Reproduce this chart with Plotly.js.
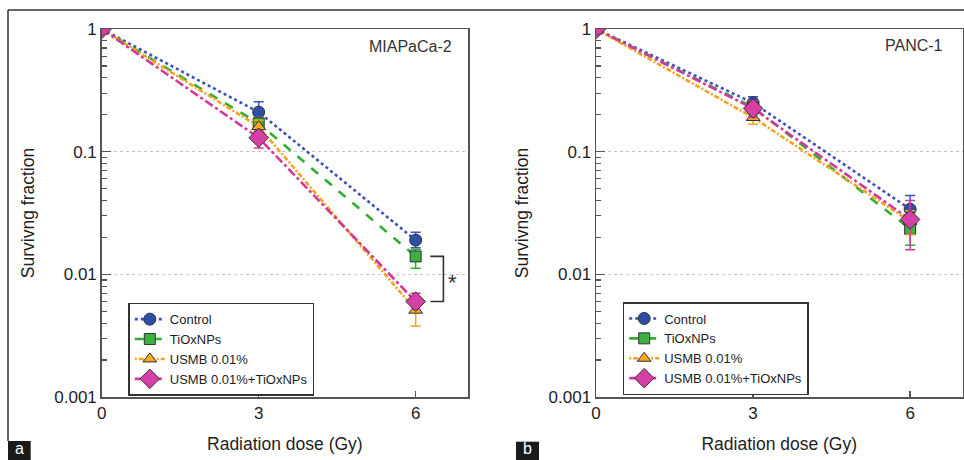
<!DOCTYPE html>
<html>
<head>
<meta charset="utf-8">
<script src="https://cdn.plot.ly/plotly-3.0.1.min.js"></script>
<style>html,body{margin:0;padding:0;background:#fff;}#chart{width:964px;height:460px;}</style>
</head>
<body>
<div id="chart"></div>
<script>
// ---- data ----
const doses = [0, 3, 6];
const seriesNames = ["Control", "TiOxNPs", "USMB 0.01%", "USMB 0.01%+TiOxNPs"];

// Panel a: MIAPaCa-2
const a_control    = [1, 0.21, 0.019];
const a_control_hi = [1, 0.255, 0.022];
const a_control_lo = [1, 0.175, 0.0165];
const a_tiox       = [1, 0.17, 0.014];
const a_tiox_hi    = [1, 0.19, 0.016];
const a_tiox_lo    = [1, 0.15, 0.0112];
const a_usmb       = [1, 0.16, 0.0051];
const a_usmb_hi    = [1, 0.18, 0.0058];
const a_usmb_lo    = [1, 0.14, 0.0038];
const a_combo      = [1, 0.13, 0.006];
const a_combo_hi   = [1, 0.145, 0.007];
const a_combo_lo   = [1, 0.107, 0.0052];

// Panel b: PANC-1
const b_control    = [1, 0.25, 0.034];
const b_control_hi = [1, 0.28, 0.044];
const b_control_lo = [1, 0.22, 0.027];
const b_tiox       = [1, 0.23, 0.0235];
const b_tiox_hi    = [1, 0.25, 0.029];
const b_tiox_lo    = [1, 0.20, 0.0173];
const b_usmb       = [1, 0.19, 0.027];
const b_usmb_hi    = [1, 0.21, 0.033];
const b_usmb_lo    = [1, 0.167, 0.021];
const b_combo      = [1, 0.225, 0.028];
const b_combo_hi   = [1, 0.26, 0.040];
const b_combo_lo   = [1, 0.19, 0.0159];

const yTickVals = [1, 0.1, 0.01, 0.001];
const yTickText = ["1", "0.1", "0.01", "0.001"];
const xTickVals = [0, 3, 6];
const panelTitles = ["MIAPaCa-2", "PANC-1"];
const xTitle = "Radiation dose (Gy)";
const yTitle = "Survivng fraction";

// ---- styles ----
const FONT = "Arial, 'Liberation Sans', sans-serif";
const TXT = "#1e1e1e";
const styles = [
  {line: "#3f4fbf", fill: "#2f4ea6", dash: "dot", symbol: "circle", size: 12},
  {line: "#2fb030", fill: "#3cb043", dash: "dash", symbol: "square", size: 11},
  {line: "#f6a31c", fill: "#f4a81d", dash: "2px,2px,5px,2px", symbol: "triangle-up", size: 12},
  {line: "#d4389c", fill: "#d63fa6", dash: "9px,3px,3px,3px", symbol: "diamond", size: 15}
];

function diff(a, b) { return a.map((v, i) => Math.abs(v - b[i])); }

function makeTraces(sets, xa, ya, legendId) {
  return sets.map((s, i) => ({
    type: "scatter", mode: "lines+markers",
    x: doses, y: s[0], name: seriesNames[i],
    xaxis: xa, yaxis: ya, legend: legendId,
    line: {color: styles[i].line, dash: styles[i].dash, width: 2.6},
    marker: {symbol: styles[i].symbol, size: styles[i].size, color: styles[i].fill, line: {color: "#333", width: 1}},
    error_y: {type: "data", symmetric: false, array: diff(s[1], s[0]), arrayminus: diff(s[0], s[2]),
              color: styles[i].line, thickness: 1.5, width: 5}
  }));
}

const setsA = [[a_control, a_control_hi, a_control_lo], [a_tiox, a_tiox_hi, a_tiox_lo],
               [a_usmb, a_usmb_hi, a_usmb_lo], [a_combo, a_combo_hi, a_combo_lo]];
const setsB = [[b_control, b_control_hi, b_control_lo], [b_tiox, b_tiox_hi, b_tiox_lo],
               [b_usmb, b_usmb_hi, b_usmb_lo], [b_combo, b_combo_hi, b_combo_lo]];

const traces = makeTraces(setsA, "x", "y", "legend").concat(makeTraces(setsB, "x2", "y2", "legend2"));

// minor ticks on log axis (2..9 per decade)
const minorVals = [];
[0.001, 0.01, 0.1].forEach(d => { for (let k = 2; k <= 9; k++) minorVals.push(+(d * k).toPrecision(3)); });

const W = 964, H = 460;
const px = v => v / W, py = v => 1 - v / H;

function xAxis(domain, anchor) {
  return {domain: domain, anchor: anchor, range: [0, 7], tickvals: xTickVals, ticks: "inside", ticklen: 6,
    tickwidth: 1.5, tickcolor: "#555", showline: true, mirror: true, linecolor: "#555", linewidth: 1.5,
    showgrid: false, zeroline: false, tickfont: {family: FONT, size: 17, color: TXT},
    title: {text: xTitle, font: {family: FONT, size: 17.5, color: TXT}, standoff: 16}};
}
function yAxis(anchor) {
  return {domain: [py(397), py(29)], anchor: anchor, type: "log", range: [-3, 0],
    tickvals: yTickVals, ticktext: yTickText, ticks: "inside", ticklen: 9, tickwidth: 1.5, tickcolor: "#555",
    minor: {tickvals: minorVals, ticks: "inside", ticklen: 5, tickwidth: 1.2, tickcolor: "#555", showgrid: false},
    showline: true, mirror: true, linecolor: "#555", linewidth: 1.5,
    showgrid: true, gridcolor: "#c4c4c4", griddash: "dot", gridwidth: 1, zeroline: false,
    tickfont: {family: FONT, size: 17, color: TXT},
    title: {text: yTitle, font: {family: FONT, size: 17.5, color: TXT}, standoff: 15}};
}

const legendStyle = {font: {family: FONT, size: 13, color: TXT}, bgcolor: "#fff", bordercolor: "#333",
  borderwidth: 1.5, xanchor: "left", yanchor: "top", itemclick: false, tracegroupgap: 0};

const layout = {
  width: W, height: H, margin: {l: 0, r: 0, t: 0, b: 0},
  paper_bgcolor: "#fff", plot_bgcolor: "#fff", showlegend: true,
  xaxis: xAxis([px(101.7), px(468)], "y"),
  yaxis: yAxis("x"),
  xaxis2: xAxis([px(596), px(962.5)], "y2"),
  yaxis2: yAxis("x2"),
  legend: Object.assign({x: px(128.3), y: py(302.7)}, legendStyle),
  legend2: Object.assign({x: px(622.7), y: py(302)}, legendStyle),
  shapes: [
    {type: "line", xref: "paper", yref: "paper", x0: px(8), x1: 1, y0: py(10), y1: py(10), line: {color: "#333", width: 1.5}},
    {type: "line", xref: "paper", yref: "paper", x0: px(8), x1: px(8), y0: py(10), y1: py(441), line: {color: "#333", width: 1.5}},
    {type: "rect", xref: "paper", yref: "paper", x0: px(8), x1: px(30.7), y0: py(441), y1: 0, fillcolor: "#1a1a1a", line: {width: 0}},
    {type: "rect", xref: "paper", yref: "paper", x0: px(516), x1: px(539), y0: py(441.7), y1: 0, fillcolor: "#1a1a1a", line: {width: 0}},
    // significance bracket between TiOxNPs and USMB 0.01%+TiOxNPs at 6 Gy (panel a)
    {type: "path", xref: "x", yref: "y",
     path: "M 6.28," + a_tiox[2] + " L 6.53," + a_tiox[2] + " L 6.53," + a_combo[2] + " L 6.28," + a_combo[2],
     line: {color: "#333", width: 1.6}}
  ],
  annotations: [
    {text: panelTitles[0], xref: "paper", yref: "paper", x: px(454), y: py(46.7), xanchor: "right", yanchor: "middle", showarrow: false, font: {family: FONT, size: 16, color: "#333"}},
    {text: panelTitles[1], xref: "paper", yref: "paper", x: px(945), y: py(46), xanchor: "right", yanchor: "middle", showarrow: false, font: {family: FONT, size: 16, color: "#333"}},
    {text: "*", xref: "x", yref: "y", x: 6.71, y: Math.log10(Math.sqrt(a_tiox[2] * a_combo[2])), xanchor: "center", yanchor: "middle", showarrow: false, font: {family: FONT, size: 22, color: "#333"}, yshift: -4},
    {text: "a", xref: "paper", yref: "paper", x: px(19.3), y: py(448.5), xanchor: "center", yanchor: "middle", showarrow: false, borderpad: 0, font: {family: FONT, size: 16, color: "#fff"}},
    {text: "b", xref: "paper", yref: "paper", x: px(527.5), y: py(448.5), xanchor: "center", yanchor: "middle", showarrow: false, borderpad: 0, font: {family: FONT, size: 16, color: "#fff"}}
  ]
};

Plotly.newPlot("chart", traces, layout, {displayModeBar: false, staticPlot: true});
</script>
</body>
</html>
